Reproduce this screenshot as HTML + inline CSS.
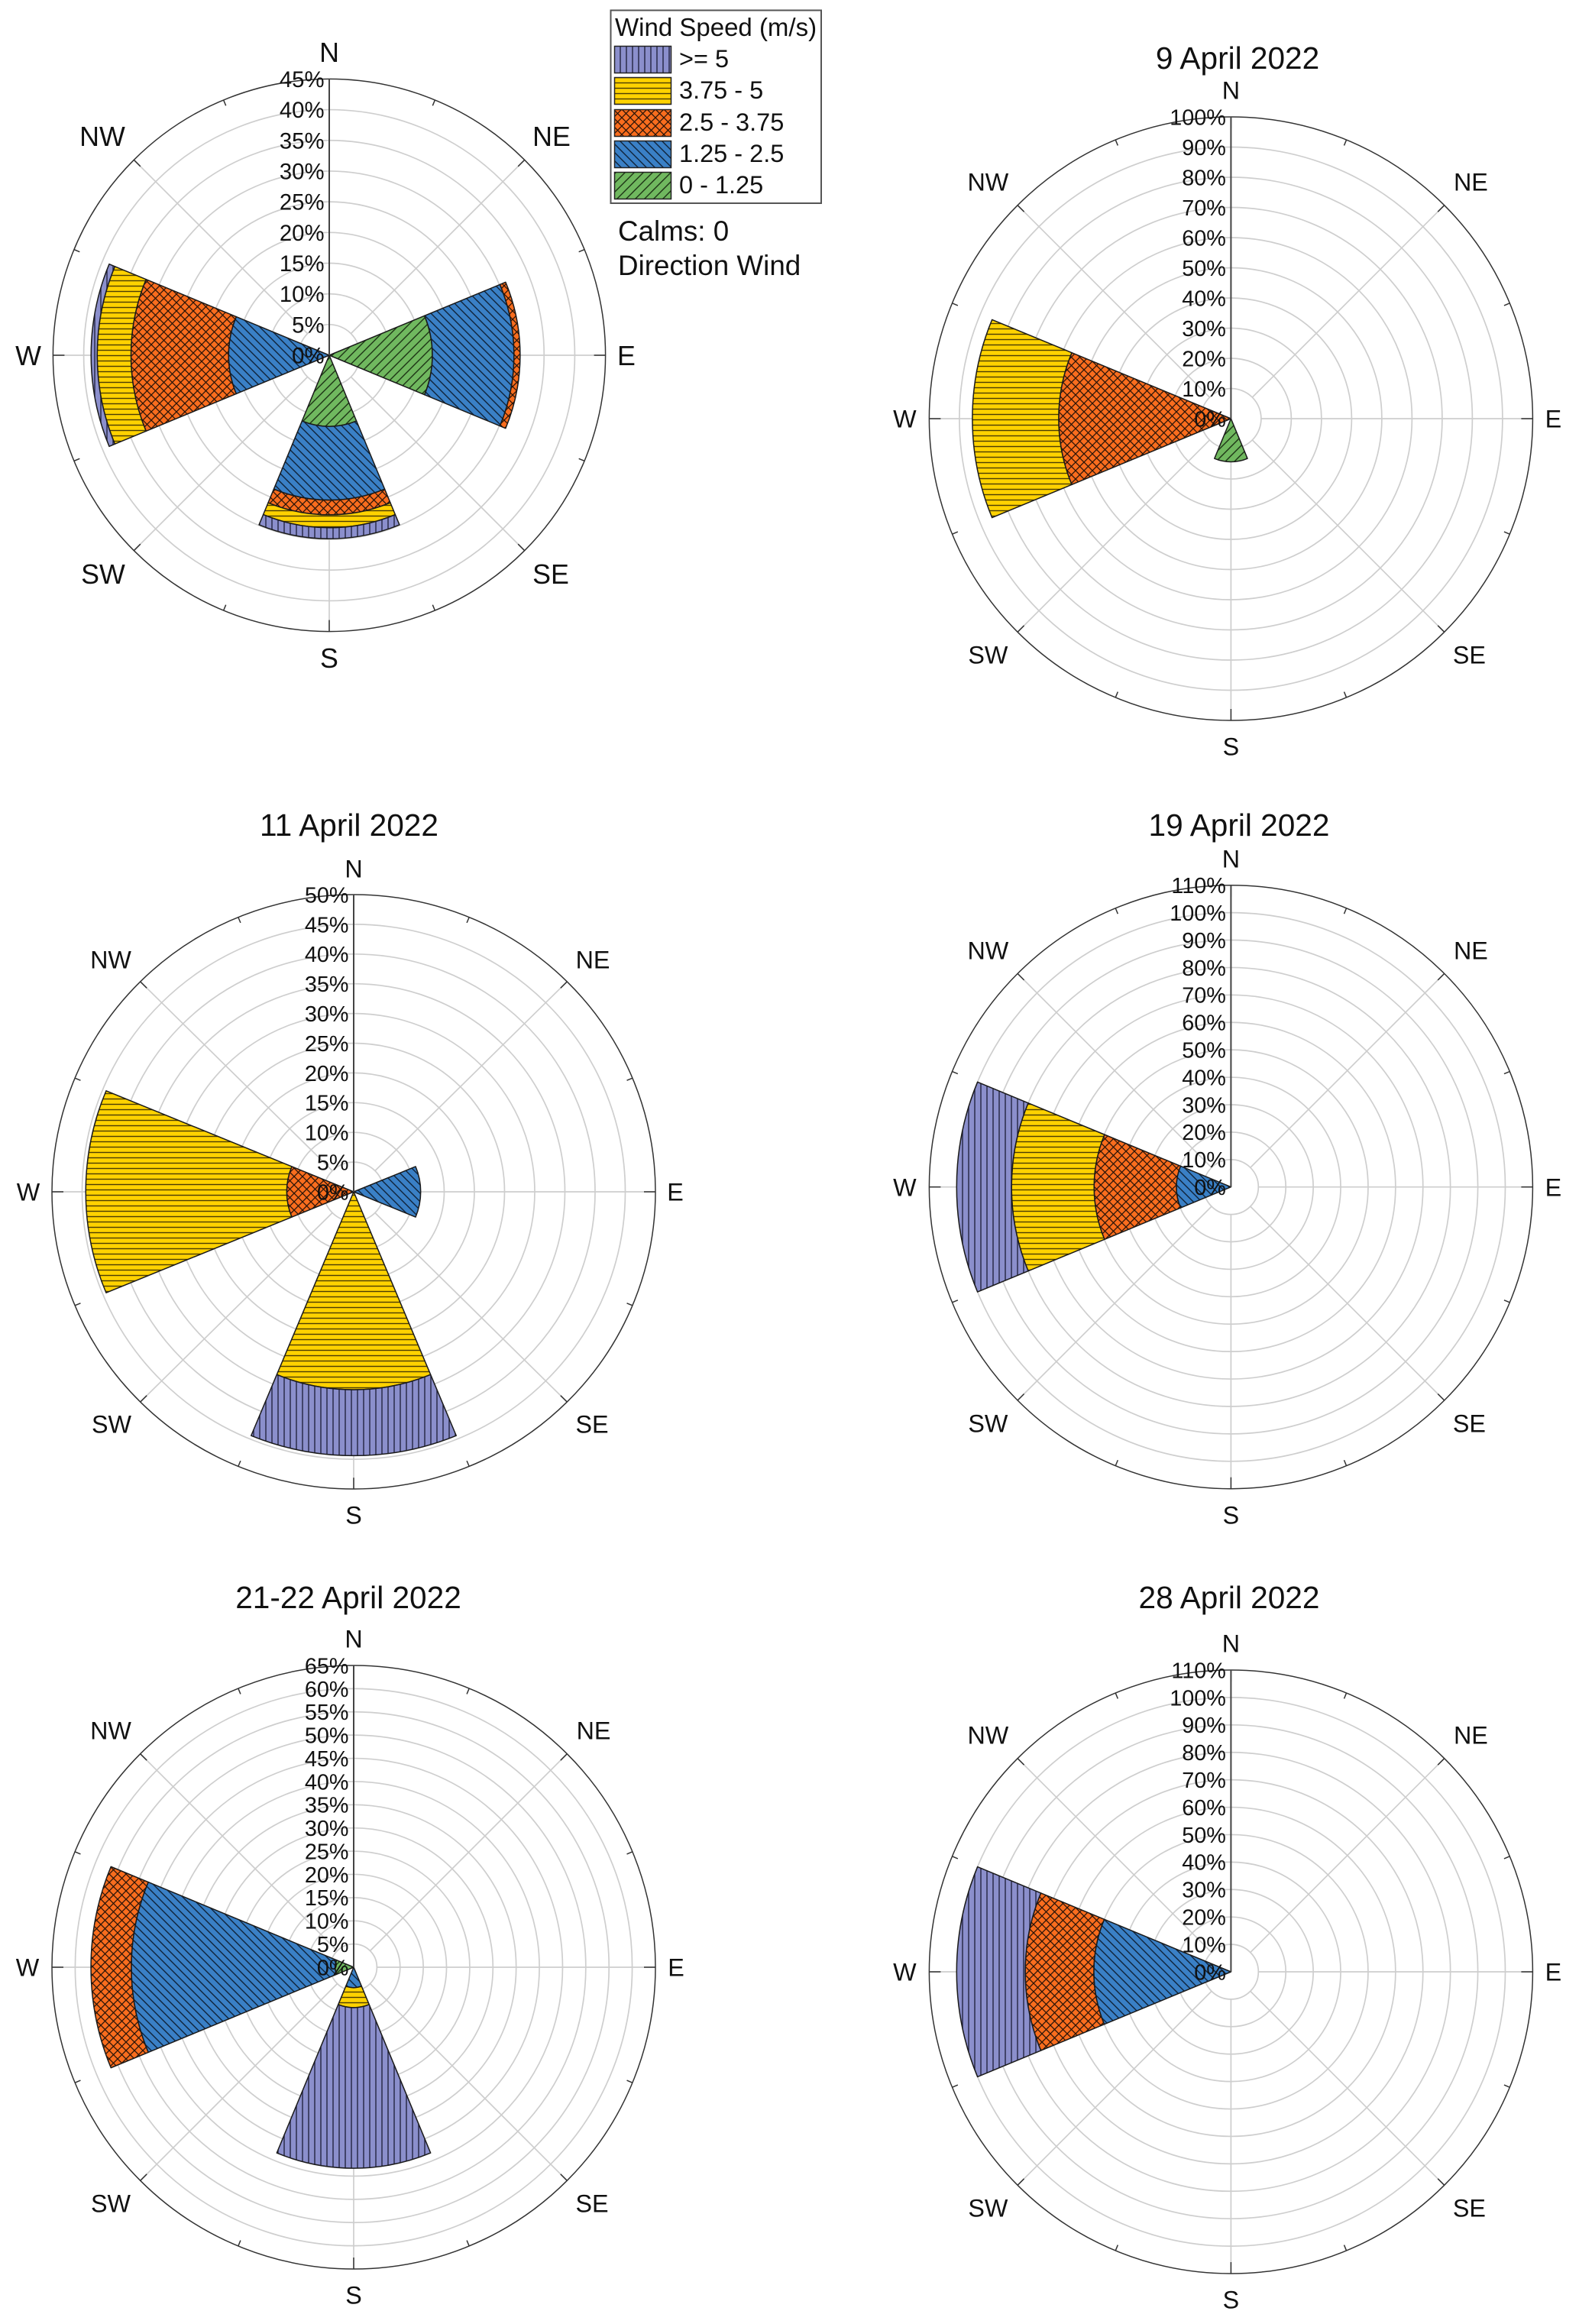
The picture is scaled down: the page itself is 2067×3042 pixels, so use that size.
<!DOCTYPE html>
<html lang="en">
<head>
<meta charset="utf-8">
<title>Wind roses, April 2022</title>
<style>
html,body{margin:0;padding:0;background:#fff;}
svg{display:block;}
text{font-family:"Liberation Sans",Arial,sans-serif;fill:#111;}
</style>
</head>
<body>
<svg id="figure" xmlns="http://www.w3.org/2000/svg" width="2067" height="3042" viewBox="0 0 2067 3042">
  <defs>
    <pattern id="hatch-4" patternUnits="userSpaceOnUse" width="8" height="8">
      <rect width="8" height="8" fill="#8b8fcc"/>
      <path d="M4,0V8" stroke="#23233f" stroke-width="1.4"/>
    </pattern>
    <pattern id="hatch-3" patternUnits="userSpaceOnUse" width="7" height="7">
      <rect width="7" height="7" fill="#ffd200"/>
      <path d="M0,3.5H7" stroke="#4a3c05" stroke-width="1.4"/>
    </pattern>
    <pattern id="hatch-2" patternUnits="userSpaceOnUse" width="11" height="11">
      <rect width="11" height="11" fill="#f96d1e"/>
      <path d="M-1,1L1,-1M0,11L11,0M10,12L12,10M-1,10L1,12M0,0L11,11M10,-1L12,1" stroke="#2a1408" stroke-width="1.3"/>
    </pattern>
    <pattern id="hatch-1" patternUnits="userSpaceOnUse" width="11" height="11">
      <rect width="11" height="11" fill="#3a80c6"/>
      <path d="M-1,10L1,12M0,0L11,11M10,-1L12,1" stroke="#0f2238" stroke-width="1.4"/>
    </pattern>
    <pattern id="hatch-0" patternUnits="userSpaceOnUse" width="12" height="12">
      <rect width="12" height="12" fill="#70b85f"/>
      <path d="M-1,1L1,-1M0,12L12,0M11,13L13,11" stroke="#1d3315" stroke-width="1.4"/>
    </pattern>
  </defs>

  <g id="panels"></g>

  <g>
    <rect x="799.5" y="13.5" width="275.5" height="252.5" fill="#fff" stroke="#555" stroke-width="2"/>
    <text x="805" y="47" font-size="33">Wind Speed (m/s)</text>
    <g>
      <rect x="804.5" y="60.5" width="74" height="35" fill="url(#hatch-4)" stroke="#222" stroke-width="1.5"/>
      <text x="889" y="88" font-size="32.5">&gt;= 5</text>
    </g>
    <g>
      <rect x="804.5" y="101.5" width="74" height="35" fill="url(#hatch-3)" stroke="#222" stroke-width="1.5"/>
      <text x="889" y="129" font-size="32.5">3.75 - 5</text>
    </g>
    <g>
      <rect x="804.5" y="143.5" width="74" height="35" fill="url(#hatch-2)" stroke="#222" stroke-width="1.5"/>
      <text x="889" y="171" font-size="32.5">2.5 - 3.75</text>
    </g>
    <g>
      <rect x="804.5" y="184.5" width="74" height="35" fill="url(#hatch-1)" stroke="#222" stroke-width="1.5"/>
      <text x="889" y="212" font-size="32.5">1.25 - 2.5</text>
    </g>
    <g>
      <rect x="804.5" y="225.5" width="74" height="35" fill="url(#hatch-0)" stroke="#222" stroke-width="1.5"/>
      <text x="889" y="253" font-size="32.5">0 - 1.25</text>
    </g>
  </g>
  <text x="809" y="315" font-size="36.8">Calms: 0</text>
  <text x="809" y="360" font-size="36.8">Direction Wind</text>

  <text x="1620" y="90" font-size="40.6" text-anchor="middle">9 April 2022</text>
  <text x="457" y="1094" font-size="40.6" text-anchor="middle">11 April 2022</text>
  <text x="1622" y="1094" font-size="40.6" text-anchor="middle">19 April 2022</text>
  <text x="456" y="2105" font-size="40.6" text-anchor="middle">21-22 April 2022</text>
  <text x="1609" y="2105" font-size="40.6" text-anchor="middle">28 April 2022</text>
</svg>

<script>
// Chart data: percent of time per speed bin, ordered as speedBins (inner to outer).
const directions = ['N', 'NE', 'E', 'SE', 'S', 'SW', 'W', 'NW'];
const speedBins = ['0 - 1.25', '1.25 - 2.5', '2.5 - 3.75', '3.75 - 5', '>= 5'];

const panel1Ticks = [0, 5, 10, 15, 20, 25, 30, 35, 40, 45];
const panel1East = [16.8, 13.3, 1.0, 0, 0];
const panel1South = [11.6, 12.0, 2.4, 2.1, 1.8];
const panel1West = [0, 16.4, 15.9, 5.5, 1.0];

const panel2Ticks = [0, 10, 20, 30, 40, 50, 60, 70, 80, 90, 100];
const panel2South = [14.3, 0, 0, 0, 0];
const panel2West = [0, 0, 57.1, 28.6, 0];

const panel3Ticks = [0, 5, 10, 15, 20, 25, 30, 35, 40, 45, 50];
const panel3East = [0, 11.1, 0, 0, 0];
const panel3South = [0, 0, 0, 33.3, 11.1];
const panel3West = [0, 0, 11.1, 33.3, 0];

const panel4Ticks = [0, 10, 20, 30, 40, 50, 60, 70, 80, 90, 100, 110];
const panel4West = [0, 19.9, 30.0, 30.1, 20.0];

const panel5Ticks = [0, 5, 10, 15, 20, 25, 30, 35, 40, 45, 50, 55, 60, 65];
const panel5South = [0, 4.4, 0, 4.3, 34.6];
const panel5West = [4.0, 43.9, 8.7, 0, 0];

const panel6Ticks = [0, 10, 20, 30, 40, 50, 60, 70, 80, 90, 100, 110];
const panel6West = [0, 50.0, 25.0, 0, 25.0];

const panelTicks = [panel1Ticks, panel2Ticks, panel3Ticks, panel4Ticks, panel5Ticks, panel6Ticks];
const panelSectors = [
  [['E', panel1East], ['S', panel1South], ['W', panel1West]],
  [['S', panel2South], ['W', panel2West]],
  [['E', panel3East], ['S', panel3South], ['W', panel3West]],
  [['W', panel4West]],
  [['S', panel5South], ['W', panel5West]],
  [['W', panel6West]]
];

// Layout (not data).
const standardOffsets = {N: [0, -430], NE: [314, -310], E: [422, 0], SE: [312, 309], S: [0, 429], SW: [-318, 309], W: [-427, 0], NW: [-318, -310]};
const layouts = [
  {cx: 431, cy: 465, rx: 361.6, ry: 361.6, size: 35.8, tick: 29.3, offsets: {N: [0, -397], NE: [291, -287], E: [389, 0], SE: [290, 286], S: [0, 396], SW: [-296, 286], W: [-394, 0], NW: [-297, -287]}},
  {cx: 1611.4, cy: 548, rx: 395, ry: 395, size: 32.3, tick: 28.8, offsets: standardOffsets},
  {cx: 463, cy: 1560, rx: 395, ry: 389, size: 32.3, tick: 28.8, offsets: {N: [0, -423], NE: [313, -304], E: [421, 0], SE: [312, 304], S: [0, 423], SW: [-317, 304], W: [-426, 0], NW: [-318, -304]}},
  {cx: 1611.4, cy: 1553.7, rx: 395, ry: 395, size: 32.3, tick: 28.8, offsets: standardOffsets},
  {cx: 463, cy: 2575, rx: 395, ry: 395, size: 32.3, tick: 28.8, offsets: standardOffsets},
  {cx: 1611.4, cy: 2581, rx: 395, ry: 395, size: 32.3, tick: 28.8, offsets: standardOffsets}
];
const SECTOR_HALF_WIDTH = 22.5;
const NS = 'http://www.w3.org/2000/svg';

function make(tag, attrs, parent) {
  const el = document.createElementNS(NS, tag);
  for (const key in attrs) el.setAttribute(key, attrs[key]);
  parent.appendChild(el);
  return el;
}

function drawPanel(index) {
  const L = layouts[index];
  const ticks = panelTicks[index];
  const rMax = ticks[ticks.length - 1];
  const n = index + 1;

  // Axis functions: value -> radial fraction, (value, bearing) -> pixel.
  const radial = v => v / rMax;
  const point = (v, deg) => {
    const a = deg * Math.PI / 180;
    return [L.cx + radial(v) * L.rx * Math.sin(a), L.cy - radial(v) * L.ry * Math.cos(a)];
  };

  const g = make('g', {}, document.getElementById('panels'));
  
  

  // Rings
  ticks.slice(1, -1).forEach(t => {
    const ring = make('ellipse', {cx: L.cx, cy: L.cy, rx: radial(t) * L.rx, ry: radial(t) * L.ry, fill: 'none', stroke: '#cecece', 'stroke-width': 1.7}, g);
    
    
  });

  // Spokes
  directions.forEach((d, i) => {
    const deg = i * 45;
    if (d === 'N') return;
    const p0 = point(ticks[1], deg);
    const p1 = point(rMax, deg);
    const spoke = make('line', {x1: p0[0], y1: p0[1], x2: p1[0], y2: p1[1], stroke: '#cecece', 'stroke-width': 1.7}, g);
    
    
  });

  // Perimeter
  const edge = make('ellipse', {cx: L.cx, cy: L.cy, rx: L.rx, ry: L.ry, fill: 'none', stroke: '#333', 'stroke-width': 1.5}, g);
  
  

  // Perimeter ticks every 22.5 degrees
  for (let k = 0; k < 16; k++) {
    const deg = k * 22.5;
    const frac = k % 4 === 0 ? 15 : (k % 2 === 0 ? 12 : 8);
    const inner = rMax * (1 - frac / L.rx);
    const p0 = point(inner, deg);
    const p1 = point(rMax, deg);
    const tick = make('line', {x1: p0[0], y1: p0[1], x2: p1[0], y2: p1[1], stroke: '#333', 'stroke-width': 1.5}, g);
    
    
  }

  // Sectors
  panelSectors[index].forEach(entry => {
    const dir = entry[0];
    const values = entry[1];
    const centre = directions.indexOf(dir) * 45;
    const a0 = centre - SECTOR_HALF_WIDTH;
    const a1 = centre + SECTOR_HALF_WIDTH;
    let total = 0;
    values.forEach((v, b) => {
      if (v <= 0) return;
      const r0 = total;
      const r1 = total + v;
      total = r1;
      const pA = point(r1, a0);
      const pB = point(r1, a1);
      const pC = point(r0, a1);
      const pD = point(r0, a0);
      let d = 'M' + pD[0] + ',' + pD[1] + 'L' + pA[0] + ',' + pA[1] +
        'A' + radial(r1) * L.rx + ',' + radial(r1) * L.ry + ' 0 0 1 ' + pB[0] + ',' + pB[1] +
        'L' + pC[0] + ',' + pC[1];
      if (r0 > 0) d += 'A' + radial(r0) * L.rx + ',' + radial(r0) * L.ry + ' 0 0 0 ' + pD[0] + ',' + pD[1];
      d += 'Z';
      const seg = make('path', {d: d, fill: 'url(#hatch-' + b + ')', stroke: '#1a1a1a', 'stroke-width': 1.5, 'stroke-linejoin': 'round'}, g);
      
      
    });
  });

  // North axis
  const axisTop = point(rMax, 0);
  const axis = make('line', {x1: L.cx, y1: L.cy, x2: axisTop[0], y2: axisTop[1], stroke: '#444', 'stroke-width': 2}, g);
  
  

  // Radial tick labels
  ticks.forEach(t => {
    const p = point(t, 0);
    const label = make('text', {x: L.cx - 6.5, y: p[1] + L.tick * 0.36, 'font-size': L.tick, 'text-anchor': 'end'}, g);
    label.textContent = t + '%';
    
    
  });

  // Compass labels
  directions.forEach(d => {
    const off = L.offsets[d];
    const label = make('text', {x: L.cx + off[0], y: L.cy + off[1] + L.size * 0.36, 'font-size': L.size, 'text-anchor': 'middle'}, g);
    label.textContent = d;
    
    
  });
}

layouts.forEach((_, i) => drawPanel(i));
</script>
</body>
</html>
